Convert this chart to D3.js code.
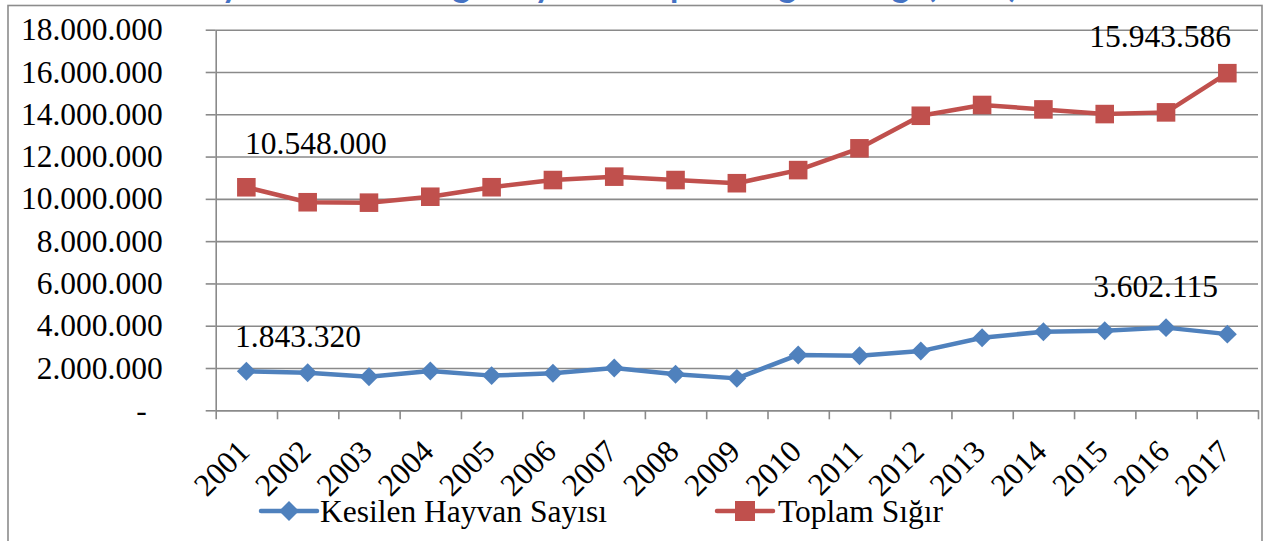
<!DOCTYPE html>
<html>
<head>
<meta charset="utf-8">
<script src="https://d3js.org/d3.v7.min.js"></script>
<style>
  html, body { margin: 0; padding: 0; background: #fff; }
  svg { display: block; }
</style>
</head>
<body>
<svg id="chart" width="1266" height="541"></svg>
<script>
// ---- data ----
const years = ["2001","2002","2003","2004","2005","2006","2007","2008","2009","2010","2011","2012","2013","2014","2015","2016","2017"];
const kesilen = [1843320, 1780000, 1590000, 1860000, 1640000, 1750000, 2000000, 1700000, 1510000, 2620000, 2580000, 2800000, 3430000, 3720000, 3760000, 3910000, 3602115];
const toplam = [10548000, 9840000, 9820000, 10100000, 10550000, 10890000, 11050000, 10890000, 10740000, 11360000, 12390000, 13930000, 14440000, 14230000, 14010000, 14090000, 15943586];
const yTicks = [0, 2000000, 4000000, 6000000, 8000000, 10000000, 12000000, 14000000, 16000000, 18000000];
const seriesNames = ["Kesilen Hayvan Sayısı", "Toplam Sığır"];
const titleText = "Türkiye'de Kesilen Sığır Sayısı ve Toplam Sığır Varlığı (Adet)";

// ---- layout ----
const svg = d3.select("#chart");
const L = 215.7, R = 1258, T = 29.7, B = 410.3;
const FONT = "'Liberation Serif', 'Times New Roman', serif";
const FS = 31.5;
const gridColor = "#8a8a8a";
const blue = "#4F81BD", red = "#C0504D";

const x = d3.scaleBand().domain(years).range([L, R]).padding(0);
const xb = d3.scaleLinear().domain([0, years.length]).range([L, R]);
const y = d3.scaleLinear().domain([0, 18000000]).range([B, T]);
const fmt = v => v === 0 ? "-" : d3.format(",")(v).replace(/,/g, ".");
const cx = d => x(d) + x.bandwidth() / 2;

// title (mostly cut off at the top)
svg.append("text")
  .attr("x", 146).attr("y", -3)
  .attr("textLength", 872).attr("lengthAdjust", "spacingAndGlyphs")
  .attr("font-family", "Lato, 'Open Sans', sans-serif")
  .attr("font-weight", "bold").attr("font-size", 34)
  .attr("fill", "#4472C4")
  .text(titleText);

// outer border
svg.append("rect")
  .attr("x", 8).attr("y", 5.5).attr("width", 1254).attr("height", 560)
  .attr("fill", "none").attr("stroke", "#8c8c8c").attr("stroke-width", 1.6);

// gridlines
const grid = svg.append("g").attr("transform", `translate(${L},0)`)
  .call(d3.axisLeft(y).tickValues(yTicks).tickSize(-(R - L)).tickFormat(""));
grid.select(".domain").remove();
grid.selectAll("line").attr("stroke", gridColor).attr("stroke-width", 1.6);

// y axis with outside ticks + labels
const yAx = svg.append("g").attr("transform", `translate(${L},0)`)
  .call(d3.axisLeft(y).tickValues(yTicks).tickSize(10).tickSizeOuter(0).tickPadding(43).tickFormat(fmt));
yAx.select(".domain").attr("stroke", gridColor).attr("stroke-width", 1.6);
yAx.selectAll("line").attr("stroke", gridColor).attr("stroke-width", 1.6);
yAx.selectAll("text")
  .attr("font-family", FONT).attr("font-size", FS).attr("fill", "#000")
  .attr("x", d => d === 0 ? -69 : -53);

// x axis: boundary ticks
const xAx = svg.append("g").attr("transform", `translate(0,${B})`)
  .call(d3.axisBottom(xb).tickValues(d3.range(years.length + 1)).tickSize(9).tickSizeOuter(0).tickFormat(""));
xAx.select(".domain").attr("stroke", gridColor).attr("stroke-width", 1.6);
xAx.selectAll("line").attr("stroke", gridColor).attr("stroke-width", 1.6);

// x labels, rotated
const xLab = svg.append("g").attr("transform", `translate(0,${B})`)
  .call(d3.axisBottom(x).tickSize(0).tickFormat(d => d));
xLab.select(".domain").remove();
xLab.selectAll("text")
  .attr("font-family", FONT).attr("font-size", FS).attr("fill", "#000")
  .attr("text-anchor", "end").attr("x", 0).attr("y", 0).attr("dy", null)
  .attr("transform", "translate(5,43) rotate(-45)");

// lines
const line = d3.line().x((d, i) => cx(years[i])).y(d => y(d));
svg.append("path").datum(kesilen).attr("d", line)
  .attr("fill", "none").attr("stroke", blue).attr("stroke-width", 4.5).attr("stroke-linejoin", "round");
svg.append("path").datum(toplam).attr("d", line)
  .attr("fill", "none").attr("stroke", red).attr("stroke-width", 4.5).attr("stroke-linejoin", "round");

// markers
const diamond = d3.symbol().type(d3.symbolSquare).size(180);
const square = d3.symbol().type(d3.symbolSquare).size(345);
svg.append("g").selectAll("path").data(kesilen).join("path")
  .attr("d", diamond)
  .attr("transform", (d, i) => `translate(${cx(years[i])},${y(d)}) rotate(45)`)
  .attr("fill", blue);
svg.append("g").selectAll("path").data(toplam).join("path")
  .attr("d", square)
  .attr("transform", (d, i) => `translate(${cx(years[i])},${y(d)})`)
  .attr("fill", red);

// data labels (first and last of each series)
const labels = [
  { v: toplam[0], x: 245, y: 154, anchor: "start" },
  { v: toplam[toplam.length - 1], x: 1231, y: 47, anchor: "end" },
  { v: kesilen[0], x: 235, y: 347, anchor: "start" },
  { v: kesilen[kesilen.length - 1], x: 1218, y: 297, anchor: "end" }
];
svg.append("g").selectAll("text").data(labels).join("text")
  .attr("x", d => d.x).attr("y", d => d.y).attr("text-anchor", d => d.anchor)
  .attr("font-family", FONT).attr("font-size", FS).attr("fill", "#000")
  .text(d => fmt(d.v));

// legend
const leg = [
  { name: seriesNames[0], color: blue, x1: 261, sym: diamond, rot: 45, tx: 320 },
  { name: seriesNames[1], color: red, x1: 717, sym: square, rot: 0, tx: 778 }
];
const lg = svg.append("g").selectAll("g").data(leg).join("g");
lg.append("line")
  .attr("x1", d => d.x1).attr("x2", d => d.x1 + 56).attr("y1", 511).attr("y2", 511)
  .attr("stroke", d => d.color).attr("stroke-width", 4.5).attr("stroke-linecap", "round");
lg.append("path")
  .attr("d", d => d3.symbol().type(d3.symbolSquare).size(d.rot ? 200 : 400)())
  .attr("transform", d => `translate(${d.x1 + 28},511) rotate(${d.rot})`)
  .attr("fill", d => d.color);
lg.append("text")
  .attr("x", d => d.tx).attr("y", 522)
  .attr("font-family", FONT).attr("font-size", FS).attr("fill", "#000")
  .text(d => d.name);
</script>
</body>
</html>
